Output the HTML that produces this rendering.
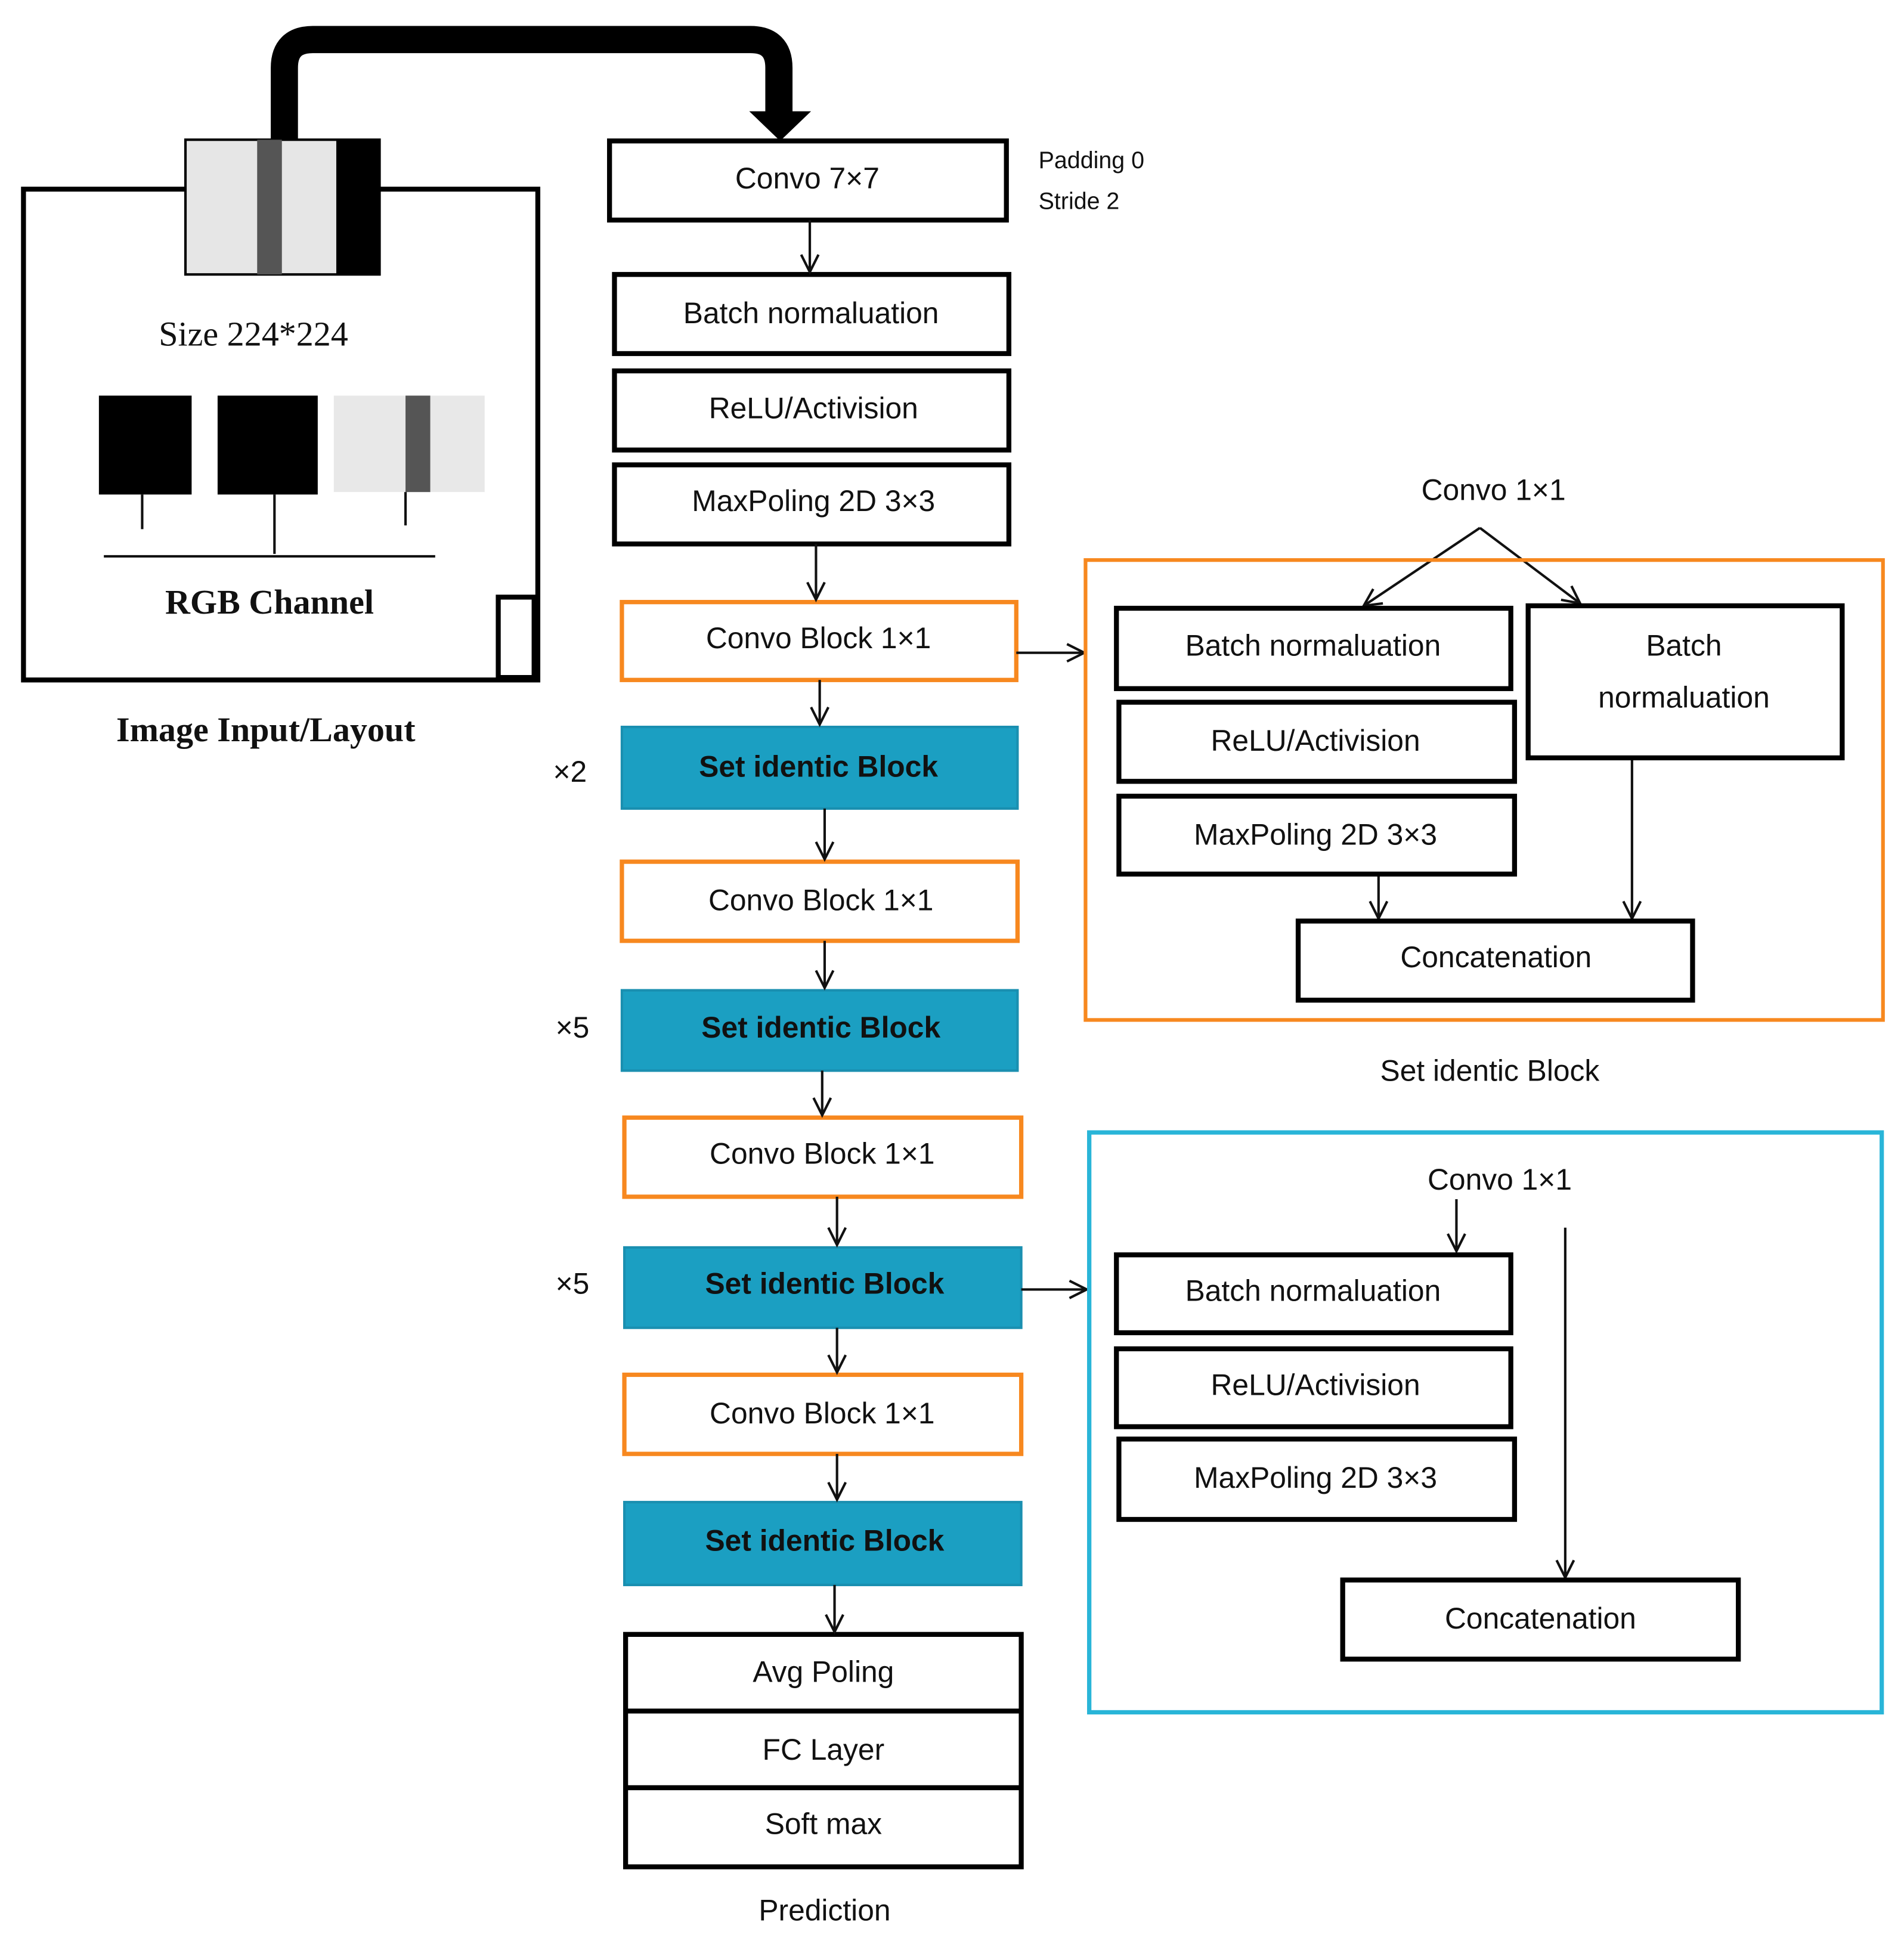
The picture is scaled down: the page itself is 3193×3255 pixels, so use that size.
<!DOCTYPE html>
<html><head><meta charset="utf-8"><style>
html,body{margin:0;padding:0;background:#fff;}
svg{display:block;}
text{font-family:"Liberation Sans",sans-serif;font-size:24px;fill:#111;text-anchor:middle;dominant-baseline:middle;}
.s{font-family:"Liberation Serif",serif;font-size:28px;font-weight:bold;}
.b{font-weight:bold;}
.box{fill:#fff;stroke:#000;stroke-width:4;}
.or{fill:#fff;stroke:#f7881f;stroke-width:3.5;}
.tl{fill:#1b9fc2;stroke:#1a8fb0;stroke-width:2;}
.ln{stroke:#111;stroke-width:2;fill:none;}
</style></head><body>
<svg width="3193" height="3255" viewBox="0 0 1540 1570" preserveAspectRatio="none" xmlns="http://www.w3.org/2000/svg">
<defs><marker id="a" markerWidth="20" markerHeight="20" refX="16" refY="9" orient="auto" markerUnits="userSpaceOnUse"><path d="M2,2 L16,9 L2,16" fill="none" stroke="#111" stroke-width="2"/></marker></defs>
<path d="M230,115 L230,55 Q230,32 253,32 L607,32 Q630,32 630,55 L630,92" fill="none" stroke="#000" stroke-width="22"/>
<path d="M606,90 L656,90 L631,114 Z" fill="#000"/>
<rect x="19" y="153" width="416" height="397" class="box"/>
<rect x="403" y="483" width="29" height="65" class="box" stroke-width="3"/>
<rect x="150" y="113" width="157" height="109" fill="#e6e6e6" stroke="#000" stroke-width="2"/>
<rect x="208" y="113" width="20" height="109" fill="#555"/>
<rect x="272" y="113" width="35" height="109" fill="#000"/>
<text x="205" y="273" class="s" style="font-weight:normal">Size 224*224</text>
<rect x="80" y="320" width="75" height="80" fill="#000"/>
<rect x="176" y="320" width="81" height="80" fill="#000"/>
<rect x="270" y="320" width="122" height="78" fill="#e8e8e8"/>
<rect x="328" y="320" width="20" height="78" fill="#555"/>
<path d="M115,400 V428 M222,400 V448 M328,398 V425 M84,450 H352" class="ln"/>
<text x="218" y="490" class="s">RGB Channel</text>
<text x="215" y="593" class="s">Image Input/Layout</text>
<rect x="493" y="114" width="321" height="64" class="box"/><text x="653" y="146">Convo  7×7</text>
<text x="840" y="131" style="text-anchor:start;font-size:19px">Padding  0</text>
<text x="840" y="164" style="text-anchor:start;font-size:19px">Stride  2</text>
<rect x="497" y="222" width="319" height="64" class="box"/><text x="656" y="255">Batch normaluation</text>
<rect x="497" y="300" width="319" height="64" class="box"/><text x="658" y="332">ReLU/Activision</text>
<rect x="497" y="376" width="319" height="64" class="box"/><text x="658" y="407">MaxPoling  2D 3×3</text>
<rect x="503" y="487" width="319" height="63" class="or"/><text x="662" y="518">Convo  Block 1×1</text>
<rect x="503" y="588" width="320" height="66" class="tl"/><text x="662" y="622" class="b">Set identic  Block</text>
<text x="461" y="626">×2</text>
<rect x="503" y="697" width="320" height="64" class="or"/><text x="664" y="730">Convo  Block 1×1</text>
<rect x="503" y="801" width="320" height="65" class="tl"/><text x="664" y="833" class="b">Set identic  Block</text>
<text x="463" y="833">×5</text>
<rect x="505" y="904" width="321" height="64" class="or"/><text x="665" y="935">Convo  Block 1×1</text>
<rect x="505" y="1009" width="321" height="65" class="tl"/><text x="667" y="1040" class="b">Set identic  Block</text>
<text x="463" y="1040">×5</text>
<rect x="505" y="1112" width="321" height="64" class="or"/><text x="665" y="1145">Convo  Block 1×1</text>
<rect x="505" y="1215" width="321" height="67" class="tl"/><text x="667" y="1248" class="b">Set identic  Block</text>
<rect x="506" y="1322" width="320" height="188" class="box"/>
<path d="M506,1384 H826 M506,1446 H826" stroke="#000" stroke-width="4"/>
<text x="666" y="1354">Avg Poling</text><text x="666" y="1417">FC Layer</text><text x="666" y="1477">Soft max</text>
<text x="667" y="1547">Prediction</text>
<g class="ln" marker-end="url(#a)">
<path d="M655,178 V220"/><path d="M660,440 V485"/><path d="M663,550 V586"/><path d="M667,654 V695"/><path d="M667,761 V799"/><path d="M665,866 V902"/><path d="M677,968 V1007"/><path d="M677,1074 V1110"/><path d="M677,1176 V1213"/><path d="M675,1282 V1320"/>
<path d="M822,528 H877"/><path d="M826,1043 H879"/>
<path d="M1197,427 L1103,490"/><path d="M1197,427 L1278,488"/>
<path d="M1115,707 V743"/><path d="M1320,613 V743"/>
<path d="M1178,970 V1012"/><path d="M1266,993 V1276"/>
</g>
<rect x="878" y="453" width="645" height="372" fill="none" stroke="#f7881f" stroke-width="3"/>
<text x="1208" y="398">Convo  1×1</text>
<rect x="903" y="492" width="319" height="65" class="box"/><text x="1062" y="524">Batch normaluation</text>
<rect x="1236" y="490" width="254" height="123" class="box"/><text x="1362" y="524">Batch</text><text x="1362" y="566">normaluation</text>
<rect x="905" y="568" width="320" height="64" class="box"/><text x="1064" y="601">ReLU/Activision</text>
<rect x="905" y="644" width="320" height="63" class="box"/><text x="1064" y="677">MaxPoling  2D 3×3</text>
<rect x="1050" y="745" width="319" height="64" class="box"/><text x="1210" y="776">Concatenation</text>
<text x="1205" y="868">Set identic  Block</text>
<rect x="881" y="916" width="641" height="469" fill="none" stroke="#29b5d8" stroke-width="3.5"/>
<text x="1213" y="956">Convo  1×1</text>
<rect x="903" y="1015" width="319" height="63" class="box"/><text x="1062" y="1046">Batch normaluation</text>
<rect x="903" y="1091" width="319" height="63" class="box"/><text x="1064" y="1122">ReLU/Activision</text>
<rect x="905" y="1164" width="320" height="65" class="box"/><text x="1064" y="1197">MaxPoling  2D 3×3</text>
<rect x="1086" y="1278" width="320" height="64" class="box"/><text x="1246" y="1311">Concatenation</text>
</svg>
</body></html>
